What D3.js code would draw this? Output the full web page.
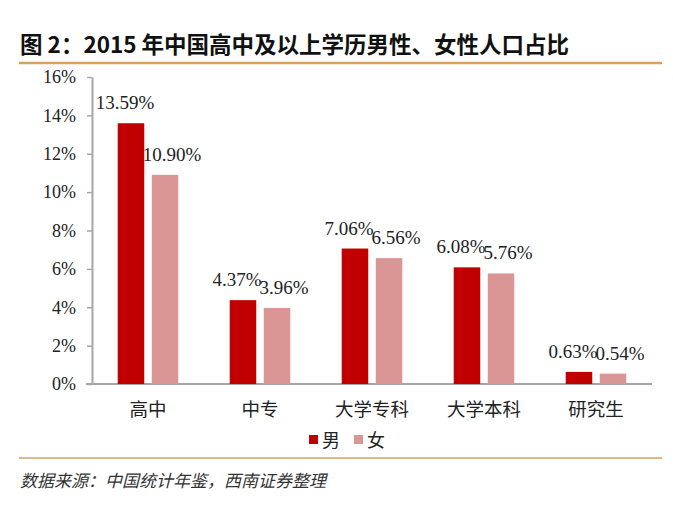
<!DOCTYPE html>
<html><head><meta charset="utf-8">
<script src="https://cdn.jsdelivr.net/npm/d3@7"></script>
<style>body{margin:0;background:#fff;}svg{display:block;}</style>
</head><body>
<script>
const categories = ["高中", "中专", "大学专科", "大学本科", "研究生"];
const male = [13.59, 4.37, 7.06, 6.08, 0.63];
const female = [10.90, 3.96, 6.56, 5.76, 0.54];
const seriesNames = ["男", "女"];
const yTicks = [0, 2, 4, 6, 8, 10, 12, 14, 16];
const titleText = "图 2：2015 年中国高中及以上学历男性、女性人口占比";
const sourceText = "数据来源：中国统计年鉴，西南证券整理";

const W = 673, H = 513;
const colors = ["#C00000", "#D99694"];
const svg = d3.select("body").append("svg").attr("width", W).attr("height", H);

svg.append("text").attr("x", 20).attr("y", 53)
  .attr("font-family", "'Noto Sans CJK SC', sans-serif").attr("font-weight", "bold")
  .attr("font-size", 22.5).attr("fill", "#111").text(titleText);
svg.append("line").attr("x1", 19).attr("x2", 662).attr("y1", 63).attr("y2", 63)
  .attr("stroke", "#D9A060").attr("stroke-width", 2.5);

const y = d3.scaleLinear().domain([0, 16]).range([384, 77]);
const x = d3.scaleBand().domain(categories).range([92, 652]);
const inner = d3.scaleBand().domain(seriesNames).range([-32, 32]).paddingInner(0.22).paddingOuter(0.05);

const yAxis = svg.append("g").attr("transform", "translate(92,0)")
  .call(d3.axisLeft(y).tickValues(yTicks).tickFormat(d => d + "%").tickSize(5).tickSizeOuter(0));
yAxis.select(".domain").attr("stroke", "#A6A6A6").attr("stroke-width", 2);
yAxis.selectAll(".tick line").attr("stroke", "#A6A6A6").attr("stroke-width", 1.5);
yAxis.selectAll(".tick text").attr("font-family", "'Liberation Serif', serif")
  .attr("font-size", 18).attr("fill", "#222").attr("x", -16);

const xAxis = svg.append("g").attr("transform", "translate(0,384)")
  .call(d3.axisBottom(x).tickSize(0).tickSizeOuter(0));
xAxis.select(".domain").attr("stroke", "#A6A6A6").attr("stroke-width", 2)
  .attr("d", "M86,0H652");
xAxis.selectAll(".tick text").attr("font-family", "'Noto Sans CJK SC', sans-serif")
  .attr("font-size", 18.5).attr("fill", "#222").attr("dy", 0).attr("y", 32);

const data = categories.map((c, i) => ({c, vals: [male[i], female[i]]}));
const labelShift = [-6, 7];
const groups = svg.append("g").selectAll("g").data(data).join("g")
  .attr("transform", d => `translate(${x(d.c) + x.bandwidth() / 2},0)`);
groups.selectAll("rect").data(d => d.vals.map((v, k) => ({v, k}))).join("rect")
  .attr("x", d => inner(seriesNames[d.k])).attr("width", inner.bandwidth())
  .attr("y", d => y(d.v)).attr("height", d => y(0) - y(d.v))
  .attr("fill", d => colors[d.k]);
groups.selectAll("text.lbl").data(d => d.vals.map((v, k) => ({v, k}))).join("text")
  .attr("class", "lbl")
  .attr("x", d => inner(seriesNames[d.k]) + inner.bandwidth() / 2 + labelShift[d.k])
  .attr("y", d => y(d.v) - 14).attr("text-anchor", "middle")
  .attr("font-family", "'Liberation Serif', serif").attr("font-size", 19).attr("fill", "#222")
  .text(d => d.v.toFixed(2) + "%");

const legend = svg.append("g").attr("transform", "translate(309,440)");
seriesNames.forEach((s, k) => {
  const g = legend.append("g").attr("transform", `translate(${k * 45},0)`);
  g.append("rect").attr("x", 0).attr("y", -5).attr("width", 9).attr("height", 9).attr("fill", colors[k]);
  g.append("text").attr("x", 13).attr("y", 7).attr("font-family", "'Noto Sans CJK SC', sans-serif")
    .attr("font-size", 18).attr("fill", "#222").text(s);
});

svg.append("line").attr("x1", 19).attr("x2", 662).attr("y1", 458).attr("y2", 458)
  .attr("stroke", "#D9A060").attr("stroke-width", 1.5);
svg.append("text").attr("x", 20).attr("y", 487)
  .attr("font-family", "'Noto Sans CJK SC', sans-serif").attr("font-style", "italic")
  .attr("font-size", 17).attr("fill", "#333").text(sourceText);
</script>
</body></html>
